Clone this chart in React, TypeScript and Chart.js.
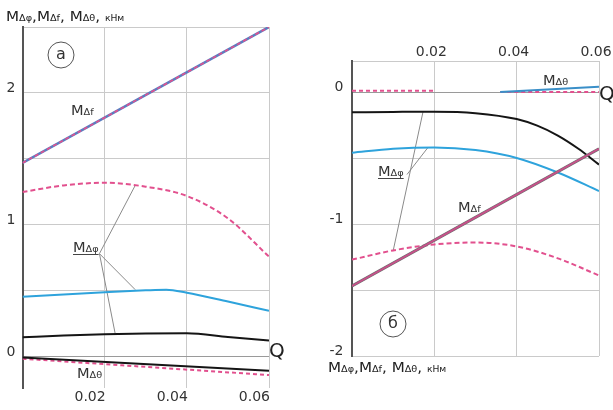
import { useEffect, useRef } from 'react';
import { Chart, registerables } from 'chart.js';
Chart.register(...registerables);

// ---------- data: panel (а) ----------
const XA = [0, 0.01, 0.02, 0.03, 0.04, 0.05, 0.06];
const XA_BLUE = [0, 0.01, 0.02, 0.03, 0.035, 0.04, 0.05, 0.06];
const X_ENDS = [0, 0.06];
const A_DF = [1.47, 2.5];
const A_PHI_PINK = [1.25, 1.3, 1.32, 1.29, 1.22, 1.05, 0.76];
const A_PHI_BLUE = [0.457, 0.473, 0.49, 0.505, 0.51, 0.487, 0.42, 0.35];
const A_PHI_BLACK = [0.15, 0.162, 0.172, 0.178, 0.18, 0.152, 0.124];
const A_THETA_BLACK = [-0.003, -0.104];
const A_THETA_PINK = [-0.013, -0.137];
// leader lines (x1, y1, x2, y2) in data units
const A_LEADERS = [
  [0.01873, 0.783, 0.02744, 1.3],
  [0.01873, 0.783, 0.02744, 0.51],
  [0.01873, 0.783, 0.02256, 0.177],
];

// ---------- data: panel (б) ----------
const XB = [0, 0.01, 0.02, 0.03, 0.04, 0.05, 0.06];
const XB_BLACK = [0, 0.01, 0.02, 0.03, 0.04, 0.045, 0.05, 0.055, 0.06];
const B_DF = [-1.47, -0.43];
const B_PHI_BLACK = [-0.154, -0.151, -0.149, -0.16, -0.205, -0.255, -0.33, -0.43, -0.55];
const B_PHI_BLUE = [-0.46, -0.43, -0.42, -0.44, -0.5, -0.61, -0.75];
const B_PHI_PINK = [-1.27, -1.2, -1.155, -1.14, -1.17, -1.26, -1.39];
const XB_THETA_BLUE = [0.036, 0.06];
const B_THETA_BLUE = [0, 0.04];
const XB_THETA_PINK = [0, 0.02, 0.028, 0.036, 0.06];
const B_THETA_PINK = [0.01, 0.01, null, 0, 0];
const B_LEADERS = [
  [0.01725, -0.15, 0.01003, -1.198],
  [0.01846, -0.42, 0.01336, -0.625],
];

const X_TICKS_STEP = 0.02;
const Y_TICKS_STEP = 0.5;

const FONT = '"DejaVu Sans", sans-serif';
const PINK = '#e2508e';
const BLUE = '#2ea3dc';
const BLACK = '#151515';
const GRID = '#cacaca';
const TXT = '#333';
const SX = 1.08;

const pts = (xs: number[], ys: (number | null)[]) => xs.map((x, i) => ({ x, y: ys[i] }));

function line(xs: number[], ys: (number | null)[], color: string, width: number, dash: number[] = []) {
  return {
    data: pts(xs, ys),
    borderColor: color,
    borderWidth: width,
    borderDash: dash,
    pointRadius: 0,
    fill: false,
    cubicInterpolationMode: 'monotone',
    spanGaps: false,
  } as any;
}

function leaders(list: number[][]) {
  return list.map((l) => line([l[0], l[2]], [l[1], l[3]], '#8a8a8a', 1));
}

function seq(ctx: CanvasRenderingContext2D, x: number, y: number, parts: [string, number][], color = TXT) {
  ctx.save();
  ctx.fillStyle = color;
  ctx.textBaseline = 'alphabetic';
  ctx.textAlign = 'left';
  ctx.translate(x, y);
  ctx.scale(SX, 1);
  let cx = 0;
  for (const [t, s] of parts) {
    ctx.font = `${s}px ${FONT}`;
    ctx.fillText(t, cx, 0);
    cx += ctx.measureText(t).width;
  }
  ctx.restore();
  return x + cx * SX;
}

function mLabel(ctx: CanvasRenderingContext2D, x: number, y: number, sub: string, underline = false) {
  const end = seq(ctx, x, y, [['M', 13.5], [sub, 9]]);
  if (underline) {
    ctx.save();
    ctx.strokeStyle = '#444';
    ctx.lineWidth = 1;
    ctx.beginPath();
    ctx.moveTo(x, y + 2.5);
    ctx.lineTo(end, y + 2.5);
    ctx.stroke();
    ctx.restore();
  }
}

function title(ctx: CanvasRenderingContext2D, x: number, y: number) {
  seq(ctx, x, y, [
    ['M', 14], ['Δφ', 9], [',', 14], ['M', 14], ['Δf', 9], [', ', 14],
    ['M', 14], ['Δθ', 9], [', ', 14], ['кНм', 8.5],
  ], '#222');
}

function circleLetter(ctx: CanvasRenderingContext2D, cx: number, cy: number, t: string) {
  ctx.save();
  ctx.strokeStyle = '#555';
  ctx.lineWidth = 1;
  ctx.beginPath();
  ctx.arc(cx, cy, 13, 0, Math.PI * 2);
  ctx.stroke();
  ctx.fillStyle = '#333';
  ctx.font = `16px ${FONT}`;
  ctx.textAlign = 'center';
  ctx.textBaseline = 'middle';
  ctx.fillText(t, cx, cy);
  ctx.restore();
}

function qLabel(ctx: CanvasRenderingContext2D, x: number, y: number) {
  ctx.save();
  ctx.fillStyle = '#222';
  ctx.font = `20px ${FONT}`;
  ctx.textAlign = 'left';
  ctx.textBaseline = 'alphabetic';
  ctx.fillText('Q', x, y);
  ctx.restore();
}

const isInt = (v: number) => Math.abs(v - Math.round(v)) < 1e-6;

function yScale(min: number, max: number, width: number, pad: number) {
  return {
    type: 'linear',
    min,
    max,
    afterFit: (s: any) => { s.width = width; },
    grid: {
      color: (c: any) => (c.tick && Math.abs(c.tick.value) < 1e-9 ? '#9a9a9a' : GRID),
      lineWidth: 1,
      drawTicks: false,
    },
    border: { display: true, color: '#555', width: 2 },
    ticks: {
      stepSize: Y_TICKS_STEP,
      includeBounds: false,
      padding: pad,
      labelOffset: -4.5,
      color: TXT,
      font: { family: FONT, size: 14 },
      callback: (v: any) => (isInt(Number(v)) ? String(Math.round(Number(v))) : ''),
    },
  } as any;
}

function xScale(position: string, height: number, align: string, labelOffset: number, pad: number, border: boolean) {
  return {
    type: 'linear',
    position,
    min: 0,
    max: 0.06,
    afterFit: (s: any) => { s.height = height; },
    grid: {
      color: (c: any) => (c.tick && Math.abs(c.tick.value) < 1e-9 ? 'rgba(0,0,0,0)' : GRID),
      lineWidth: 1,
      drawTicks: false,
    },
    border: { display: border, color: GRID, width: 1 },
    ticks: {
      stepSize: X_TICKS_STEP,
      align,
      labelOffset,
      padding: pad,
      autoSkip: false,
      maxRotation: 0,
      color: TXT,
      font: { family: FONT, size: 14 },
      callback: (v: any) => (Number(v) < 1e-9 ? '' : Number(v).toFixed(2)),
    },
  } as any;
}

function configA(): any {
  const annot = {
    id: 'annotA',
    afterDraw(chart: any) {
      const ctx = chart.ctx as CanvasRenderingContext2D;
      title(ctx, 6, 21);
      circleLetter(ctx, 61, 55, 'а');
      mLabel(ctx, 71, 115, 'Δf');
      mLabel(ctx, 73, 252, 'Δφ', true);
      mLabel(ctx, 77, 378, 'Δθ');
      qLabel(ctx, 269, 357);
    },
  };
  return {
    type: 'line',
    data: {
      datasets: [
        line(X_ENDS, A_DF, PINK, 1.6, [4, 3]),
        line(X_ENDS, A_DF, '#5a7ec0', 2.6),
        line(XA, A_PHI_PINK, PINK, 2, [5, 3]),
        line(XA_BLUE, A_PHI_BLUE, BLUE, 2),
        line(XA, A_PHI_BLACK, BLACK, 2),
        line(X_ENDS, A_THETA_BLACK, BLACK, 2),
        line(X_ENDS, A_THETA_PINK, PINK, 2, [4, 3]),
        ...leaders(A_LEADERS),
      ],
    },
    options: {
      animation: false,
      responsive: false,
      devicePixelRatio: 1,
      layout: { padding: { left: 0, right: 31, top: 27, bottom: 2 } },
      plugins: { legend: { display: false }, tooltip: { enabled: false } },
      scales: {
        x: xScale('bottom', 20, 'end', 1, 1, false),
        y: yScale(-0.235, 2.5, 22.5, 7),
      },
    },
    plugins: [annot],
  };
}

function configB(): any {
  const annot = {
    id: 'annotB',
    afterDraw(chart: any) {
      const ctx = chart.ctx as CanvasRenderingContext2D;
      title(ctx, 28, 372);
      circleLetter(ctx, 93, 324, 'б');
      mLabel(ctx, 243, 85, 'Δθ');
      mLabel(ctx, 78, 176, 'Δφ', true);
      mLabel(ctx, 158, 212, 'Δf');
      qLabel(ctx, 299, 100);
    },
  };
  return {
    type: 'line',
    data: {
      datasets: [
        line(XB_THETA_BLUE, B_THETA_BLUE, '#3a8fc8', 2.2),
        line(XB_THETA_PINK, B_THETA_PINK, PINK, 2, [4, 3]),
        line(X_ENDS, B_DF, '#c8508a', 1.8),
        line(X_ENDS, B_DF, '#6e6e6e', 3),
        line(XB_BLACK, B_PHI_BLACK, BLACK, 2),
        line(XB, B_PHI_BLUE, BLUE, 2),
        line(XB, B_PHI_PINK, PINK, 2, [5, 3]),
        ...leaders(B_LEADERS),
      ],
    },
    options: {
      animation: false,
      responsive: false,
      devicePixelRatio: 1,
      layout: { padding: { left: 0, right: 31, top: 0, bottom: 54 } },
      plugins: { legend: { display: false }, tooltip: { enabled: false } },
      scales: {
        x: xScale('top', 61, 'center', -3, 0, true),
        y: yScale(-2, 0.235, 52, 8.5),
      },
    },
    plugins: [annot],
  };
}

export default function App() {
  const refA = useRef<HTMLCanvasElement>(null);
  const refB = useRef<HTMLCanvasElement>(null);
  useEffect(() => {
    const a = new Chart(refA.current!, configA());
    const b = new Chart(refB.current!, configB());
    return () => {
      a.destroy();
      b.destroy();
    };
  }, []);
  return (
    <div style={{ position: 'fixed', left: 0, top: 0, width: 613, height: 410, overflow: 'hidden', background: '#fff' }}>
      <canvas ref={refA} width={300} height={410} style={{ position: 'absolute', left: 0, top: 0, width: 300, height: 410 }} />
      <canvas ref={refB} width={330} height={410} style={{ position: 'absolute', left: 300, top: 0, width: 330, height: 410 }} />
    </div>
  );
}
